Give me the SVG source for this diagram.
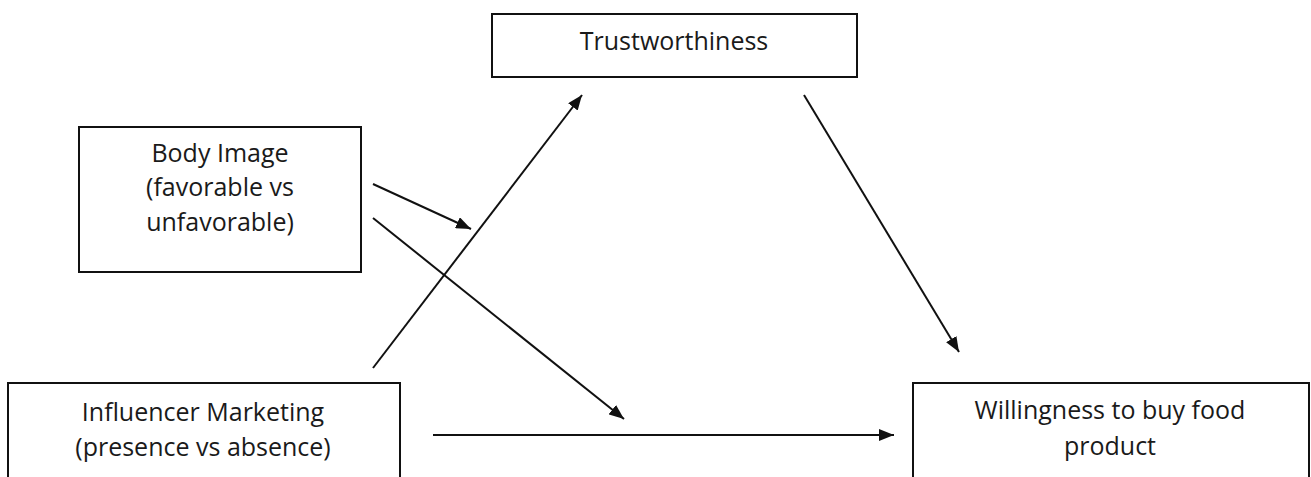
<svg xmlns="http://www.w3.org/2000/svg" width="1311" height="477" viewBox="0 0 1311 477">
<style>
.box{fill:#fff;stroke:#111;stroke-width:2}
.lbl{font-family:"Open Sans","Liberation Sans",sans-serif;font-size:25px;fill:#1a1a1a;text-anchor:middle}
.conn{stroke:#111;stroke-width:2;fill:none;marker-end:url(#ah)}
</style>
<defs>
<marker id="ah" markerUnits="userSpaceOnUse" markerWidth="16" markerHeight="12" refX="15" refY="6" orient="auto">
<path d="M0,0 L15,6 L0,12 z" fill="#111"/>
</marker>
</defs>
<rect width="1311" height="477" fill="#fff"/>
<g id="trust">
<rect class="box" x="492" y="14" width="365" height="63"/>
<text class="lbl" x="674" y="50">Trustworthiness</text>
</g>
<g id="body">
<rect class="box" x="79" y="127" width="282" height="145"/>
<text class="lbl" x="220" y="162">Body Image</text>
<text class="lbl" x="220" y="196">(favorable vs</text>
<text class="lbl" x="220" y="231">unfavorable)</text>
</g>
<g id="influencer">
<rect class="box" x="8" y="383" width="392" height="110"/>
<text class="lbl" x="203" y="421">Influencer Marketing</text>
<text class="lbl" x="203" y="456">(presence vs absence)</text>
</g>
<g id="willingness">
<rect class="box" x="913" y="383" width="396" height="110"/>
<text class="lbl" x="1110" y="419">Willingness to buy food</text>
<text class="lbl" x="1110" y="455">product</text>
</g>
<g id="connectors">
<line class="conn" x1="373" y1="368" x2="582" y2="95"/>
<line class="conn" x1="804" y1="95" x2="959" y2="352"/>
<line class="conn" x1="373" y1="184" x2="471" y2="229"/>
<line class="conn" x1="373" y1="218" x2="624" y2="419"/>
<line class="conn" x1="433" y1="435" x2="894" y2="435"/>
</g>
</svg>
